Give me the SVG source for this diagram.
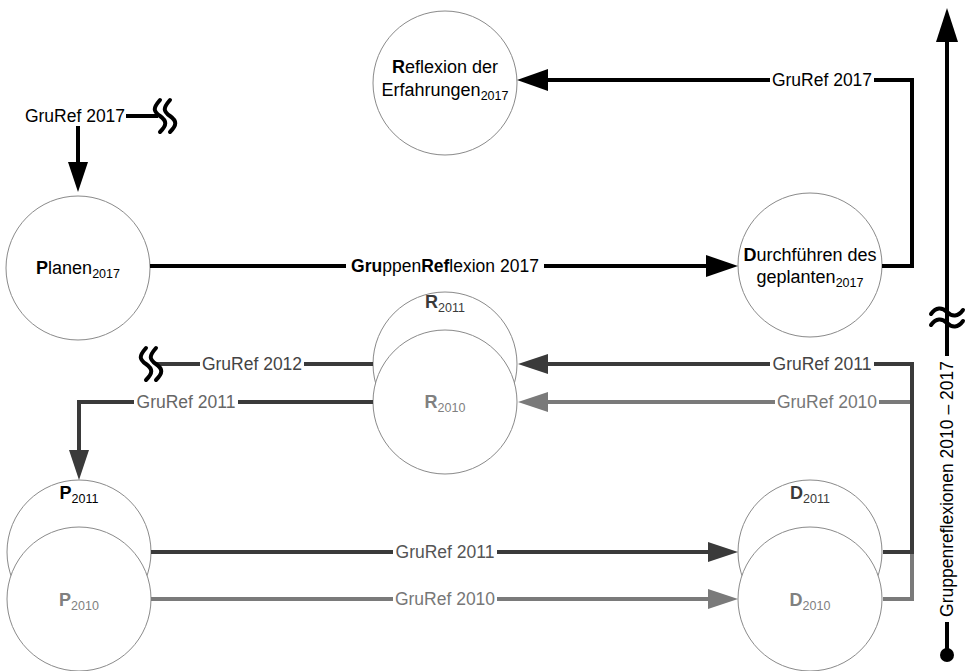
<svg xmlns="http://www.w3.org/2000/svg" width="970" height="671" viewBox="0 0 970 671">
<style>
text{font-family:"Liberation Sans",Arial,sans-serif;}
.node{fill:#fff;stroke:#8a8a8a;stroke-width:1;}
.nl{font-size:18px;text-anchor:middle;}
.sub{font-size:12.5px;}
.lbl{font-size:17.5px;text-anchor:middle;}
.bg{fill:#fff;}
.k{stroke:#000;stroke-width:4;fill:none;}
.d{stroke:#3a3a3a;stroke-width:4;fill:none;}
.g{stroke:#7a7a7a;stroke-width:4;fill:none;}
.sq{stroke:#000;stroke-width:4;fill:none;stroke-linecap:round;}
</style>
<rect width="970" height="671" fill="#fff"/>

<g id="nodes">
  <g id="n-planen">
    <circle class="node" cx="78" cy="268" r="72"/>
    <text class="nl" x="78" y="274"><tspan font-weight="bold">P</tspan>lanen<tspan class="sub" dy="4">2017</tspan></text>
  </g>
  <g id="n-reflexion">
    <circle class="node" cx="445" cy="83" r="72"/>
    <text class="nl" x="445" y="73"><tspan font-weight="bold">R</tspan>eflexion der</text>
    <text class="nl" x="445" y="96">Erfahrungen<tspan class="sub" dy="4">2017</tspan></text>
  </g>
  <g id="n-durch">
    <circle class="node" cx="810" cy="265" r="72"/>
    <text class="nl" x="810" y="261"><tspan font-weight="bold">D</tspan>urchführen des</text>
    <text class="nl" x="810" y="283">geplanten<tspan class="sub" dy="4">2017</tspan></text>
  </g>
  <g id="n-r2011">
    <circle class="node" cx="445" cy="364" r="72"/>
    <text class="nl" x="445" y="308" fill="#3a3a3a"><tspan font-weight="bold">R</tspan><tspan class="sub" dy="4">2011</tspan></text>
  </g>
  <g id="n-r2010">
    <circle class="node" cx="445" cy="402" r="72"/>
    <text class="nl" x="445" y="408" fill="#808080"><tspan font-weight="bold">R</tspan><tspan class="sub" dy="4">2010</tspan></text>
  </g>
  <g id="n-p2011">
    <circle class="node" cx="79" cy="552" r="72"/>
    <text class="nl" x="79" y="499" fill="#000"><tspan font-weight="bold">P</tspan><tspan class="sub" dy="4">2011</tspan></text>
  </g>
  <g id="n-p2010">
    <circle class="node" cx="79" cy="599" r="72"/>
    <text class="nl" x="79" y="606" fill="#808080"><tspan font-weight="bold">P</tspan><tspan class="sub" dy="4">2010</tspan></text>
  </g>
  <g id="n-d2011">
    <circle class="node" cx="810" cy="552" r="72"/>
    <text class="nl" x="810" y="499" fill="#3a3a3a"><tspan font-weight="bold">D</tspan><tspan class="sub" dy="4">2011</tspan></text>
  </g>
  <g id="n-d2010">
    <circle class="node" cx="810" cy="599" r="72"/>
    <text class="nl" x="810" y="606" fill="#808080"><tspan font-weight="bold">D</tspan><tspan class="sub" dy="4">2010</tspan></text>
  </g>
</g>

<g id="connectors">
  <!-- top-left start -->
  <path class="k" d="M78 126 V162"/>
  <polygon points="68,162 88,162 78,192" fill="#000"/>
  <path class="k" d="M126 116 H158"/>
  <path class="sq" d="M160 100 c -7 8 -7 11 0 16 c 7 5 7 9 0 16"/>
  <path class="sq" d="M170 100 c -7 8 -7 11 0 16 c 7 5 7 9 0 16"/>
  <text class="lbl" x="75" y="122">GruRef 2017</text>

  <!-- Planen -> Durchführen -->
  <path class="k" d="M150 266 H706"/>
  <polygon points="706,255 706,277 738,266" fill="#000"/>
  <rect class="bg" x="346" y="255" width="198" height="22"/>
  <text class="lbl" x="445" y="272"><tspan font-weight="bold">Gru</tspan>ppen<tspan font-weight="bold">Ref</tspan>lexion 2017</text>

  <!-- Durchführen -> Reflexion -->
  <path class="k" d="M882 266 H912 V80 H548"/>
  <polygon points="548,69 548,91 517,80" fill="#000"/>
  <rect class="bg" x="770" y="70" width="104" height="20"/>
  <text class="lbl" x="822" y="86">GruRef 2017</text>

  <!-- D2010 -> R2010 -->
  <path class="g" d="M883 599 H912 V402 H548"/>
  <polygon points="548,392 548,412 518,402" fill="#7a7a7a"/>
  <rect class="bg" x="775" y="392" width="104" height="20"/>
  <text class="lbl" x="827" y="408" fill="#777">GruRef 2010</text>

  <!-- D2011 -> R2011 -->
  <path class="d" d="M883 552 H912 V364 H548"/>
  <polygon points="548,354 548,374 518,364" fill="#3a3a3a"/>
  <rect class="bg" x="770" y="354" width="104" height="20"/>
  <text class="lbl" x="822" y="370" fill="#444">GruRef 2011</text>

  <!-- R2011 -> GruRef 2012 (break) -->
  <path class="d" d="M373 364 H156"/>
  <path class="sq" stroke="#3a3a3a" d="M146 348 c -7 8 -7 11 0 16 c 7 5 7 9 0 16"/>
  <path class="sq" stroke="#3a3a3a" d="M156 348 c -7 8 -7 11 0 16 c 7 5 7 9 0 16"/>
  <rect class="bg" x="200" y="354" width="104" height="20"/>
  <text class="lbl" x="252" y="370" fill="#444">GruRef 2012</text>

  <!-- R2010 -> P2011 -->
  <path class="d" d="M373 402 H79 V450"/>
  <polygon points="69,450 89,450 79,480" fill="#3a3a3a"/>
  <rect class="bg" x="134" y="392" width="104" height="20"/>
  <text class="lbl" x="186" y="408" fill="#666">GruRef 2011</text>

  <!-- P2011 -> D2011 -->
  <path class="d" d="M151 552 H708"/>
  <polygon points="708,542 708,562 738,552" fill="#3a3a3a"/>
  <rect class="bg" x="393" y="542" width="104" height="20"/>
  <text class="lbl" x="445" y="558" fill="#555">GruRef 2011</text>

  <!-- P2010 -> D2010 -->
  <path class="g" d="M151 599 H708"/>
  <polygon points="708,589 708,609 738,599" fill="#7a7a7a"/>
  <rect class="bg" x="393" y="589" width="104" height="20"/>
  <text class="lbl" x="445" y="605" fill="#777">GruRef 2010</text>

  <!-- time axis -->
  <path class="k" d="M947 42 V356"/>
  <polygon points="936,42 958,42 947,8" fill="#000"/>
  <path class="k" d="M947 622 V655"/>
  <circle cx="947" cy="655" r="7" fill="#000"/>
  <rect class="bg" x="930" y="312" width="36" height="14"/>
  <path class="k" d="M947 312 V326"/>
  <path class="sq" d="M931 314 c 5 -7 11 -7 16 -2 c 5 5 11 5 16 -2"/>
  <path class="sq" d="M931 325 c 5 -7 11 -7 16 -2 c 5 5 11 5 16 -2"/>
  <text font-size="17.5" text-anchor="middle" transform="translate(953 489) rotate(-90)">Gruppenreflexionen 2010 – 2017</text>
</g>
</svg>
